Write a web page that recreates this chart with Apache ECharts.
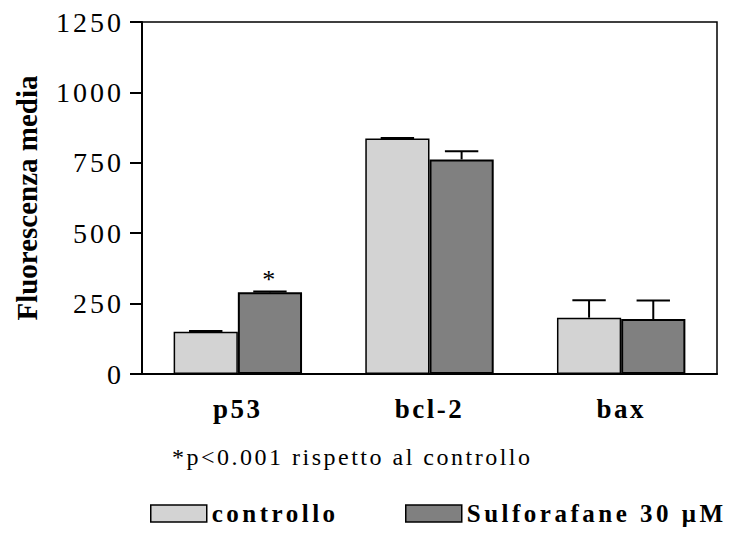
<!DOCTYPE html>
<html>
<head>
<meta charset="utf-8">
<script src="https://cdn.jsdelivr.net/npm/echarts@6/dist/echarts.min.js"></script>
<style>
  html, body { margin: 0; padding: 0; background: #fff; }
  #main { width: 733px; height: 560px; }
  #main text { letter-spacing: 2.5px; }
  #main text[style*="28px"] { letter-spacing: 3px; }
  #main text[style*="27px"] { letter-spacing: 2.5px; }
  #main text[style*="24px"] { letter-spacing: 2.5px; }
  #main text[style*="25px"] { letter-spacing: 3.5px; }
  #main text[style*="29px"] { letter-spacing: 0px; }
</style>
</head>
<body>
<div id="main"></div>
<script>
// ---- data ----
var categories = ['p53', 'bcl-2', 'bax'];
var seriesNames = ['controllo', 'Sulforafane 30 \u03bcM'];
var controlMeans = [150, 836, 200];
var controlErr = [3, 2, 62];
var sulfMeans = [290, 762, 195];
var sulfErr = [3, 29, 66];
var yTicks = [0, 250, 500, 750, 1000, 1250];
var yAxisName = 'Fluorescenza media';
var footnote = '*p<0.001 rispetto al controllo';
var significantIndex = 0; // p53, Sulforafane

var SERIF = '"Liberation Serif", "Times New Roman", serif';
var chart = echarts.init(document.getElementById('main'), null, { renderer: 'svg' });

function errorSeries(means, errs, side) {
  var data = means.map(function (m, i) { return [i, m, m + errs[i]]; });
  return {
    type: 'custom',
    z: 5,
    silent: true,
    data: data,
    renderItem: function (params, api) {
      var idx = api.value(0);
      var band = api.size([1, 0])[0];
      var barW = band * 0.67 / 2;
      var base = api.coord([idx, api.value(1)]);
      var top = api.coord([idx, api.value(2)]);
      var x = base[0] + side * barW / 2;
      var half = barW * 0.26;
      var st = { stroke: '#000', lineWidth: 2 };
      return {
        type: 'group',
        children: [
          { type: 'line', shape: { x1: x, y1: base[1], x2: x, y2: top[1] }, style: st },
          { type: 'line', shape: { x1: x - half, y1: top[1], x2: x + half, y2: top[1] }, style: st }
        ]
      };
    }
  };
}

var sulfData = sulfMeans.map(function (v, i) {
  if (i === significantIndex) {
    return {
      value: v,
      label: {
        show: true, position: 'top', distance: 0, formatter: '*',
        fontFamily: SERIF, fontSize: 26, color: '#000'
      }
    };
  }
  return v;
});

var legendText = { fontFamily: SERIF, fontWeight: 'bold', fontSize: 25, color: '#000' };

var option = {
  animation: false,
  backgroundColor: '#fff',
  grid: {
    left: 142, right: 16, top: 22, bottom: 186,
    show: true, borderColor: '#000', borderWidth: 1.5, backgroundColor: 'transparent'
  },
  legend: [
    {
      data: [seriesNames[0]], left: 145, top: 496, icon: 'rect',
      itemWidth: 56, itemHeight: 17,
      textStyle: legendText,
      itemStyle: { borderColor: '#000', borderWidth: 1.5 }
    },
    {
      data: [seriesNames[1]], left: 400, top: 496, icon: 'rect',
      itemWidth: 56, itemHeight: 17,
      textStyle: legendText,
      itemStyle: { borderColor: '#000', borderWidth: 1.5 }
    }
  ],
  xAxis: {
    type: 'category',
    data: categories,
    axisLine: { lineStyle: { color: '#000', width: 2 } },
    axisTick: { show: false },
    axisLabel: { margin: 21, fontFamily: SERIF, fontWeight: 'bold', fontSize: 27, color: '#000' },
    splitLine: { show: false }
  },
  yAxis: {
    type: 'value',
    min: yTicks[0], max: yTicks[yTicks.length - 1], interval: yTicks[1] - yTicks[0],
    name: yAxisName,
    nameLocation: 'middle',
    nameGap: 101,
    nameRotate: 90,
    nameTextStyle: { fontFamily: SERIF, fontWeight: 'bold', fontSize: 29, color: '#000' },
    axisLine: { show: true, lineStyle: { color: '#000', width: 2 } },
    axisTick: { show: true, inside: false, length: 12, lineStyle: { color: '#000', width: 2 } },
    axisLabel: {
      margin: 18, fontFamily: SERIF, fontSize: 28, color: '#000',
      formatter: function (v) { return String(v); }
    },
    splitLine: { show: false }
  },
  graphic: [
    {
      type: 'text', left: 172, top: 445,
      style: { text: footnote, font: '24px ' + SERIF, fill: '#000' }
    }
  ],
  series: [
    {
      name: seriesNames[0], type: 'bar', data: controlMeans,
      barGap: '0%', barCategoryGap: '33%',
      itemStyle: { color: '#d3d3d3', borderColor: '#000', borderWidth: 1.5 }
    },
    {
      name: seriesNames[1], type: 'bar', data: sulfData,
      barGap: '0%', barCategoryGap: '33%',
      itemStyle: { color: '#808080', borderColor: '#000', borderWidth: 2 }
    },
    errorSeries(controlMeans, controlErr, -1),
    errorSeries(sulfMeans, sulfErr, 1)
  ]
};
chart.setOption(option);
</script>
</body>
</html>
